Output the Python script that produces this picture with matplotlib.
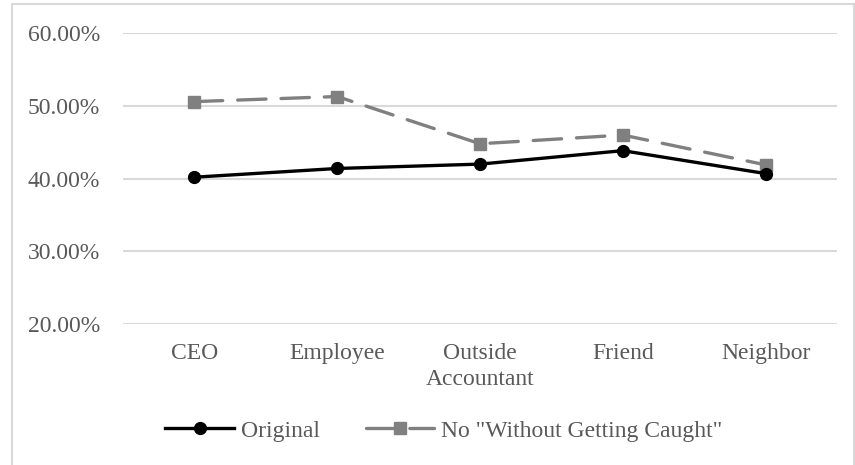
import matplotlib
matplotlib.use("Agg")
import matplotlib.pyplot as plt
from matplotlib.lines import Line2D
from matplotlib.ticker import FuncFormatter, MultipleLocator

categories = ["CEO", "Employee", "Outside\nAccountant", "Friend", "Neighbor"]
original = [0.402, 0.414, 0.420, 0.4385, 0.407]
no_caught = [0.506, 0.513, 0.448, 0.460, 0.419]
series_names = ["Original", 'No "Without Getting Caught"']

W, H = 855, 465
fig = plt.figure(figsize=(W / 100, H / 100), dpi=100)
plt.rcParams["font.family"] = ["Liberation Serif", "DejaVu Serif"]

text_color = "#595959"
grid_color = "#d9d9d9"
fs = 17

# chart frame
for xs, ys in [((12 / W, 12 / W), (0, 1 - 4 / H)),
               ((12 / W, 854 / W), (1 - 4 / H, 1 - 4 / H)),
               ((854 / W, 854 / W), (0, 1 - 4 / H))]:
    fig.add_artist(Line2D(xs, ys, transform=fig.transFigure,
                          color=grid_color, lw=1.5))

ax = fig.add_axes([123 / W, 1 - 324 / H, 714 / W, (324 - 33.3) / H])
x = list(range(len(categories)))

ax.plot(x, no_caught, color="#808080", lw=2.4, marker="s", markersize=8,
        dashes=(8.5, 4.5), dash_capstyle="round", label=series_names[1],
        zorder=3)
ax.plot(x, original, color="black", lw=2.4, marker="o", markersize=8.5,
        label=series_names[0], zorder=4)

ax.set_xlim(-0.5, len(categories) - 0.5)
ax.set_ylim(0.2, 0.6)
ax.yaxis.set_major_locator(MultipleLocator(0.1))
ax.yaxis.set_major_formatter(FuncFormatter(lambda v, _: f"{v * 100:.2f}%"))
ax.grid(axis="y", color=grid_color, lw=1.5)
ax.set_axisbelow(True)
for s in ax.spines.values():
    s.set_visible(False)
ax.tick_params(axis="both", length=0, labelsize=fs, labelcolor=text_color)
ax.tick_params(axis="y", pad=16.5)
ax.tick_params(axis="x", pad=14)
ax.set_xticks(x)
ax.set_xticklabels(categories, linespacing=1.3)

handles, labels = ax.get_legend_handles_labels()
leg = fig.legend(handles[::-1], labels[::-1], loc="center",
                 bbox_to_anchor=(444 / W, 1 - 431 / H), ncol=2, frameon=False,
                 fontsize=fs, handlelength=2.9, handletextpad=0.3,
                 columnspacing=1.95, labelcolor=text_color)

fig.savefig("out.png", dpi=100)
